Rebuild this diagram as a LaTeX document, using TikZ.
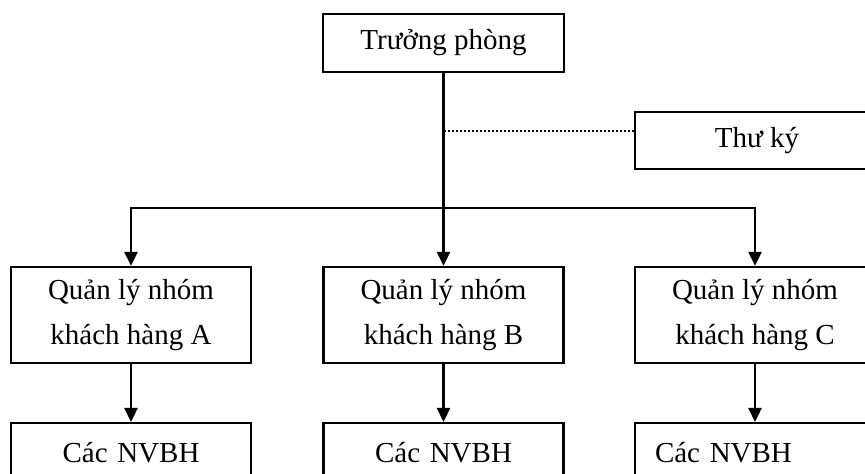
\documentclass[tikz,border=0pt]{standalone}
\usepackage{fontspec}
\setmainfont{Liberation Serif}
\usetikzlibrary{arrows.meta}
\begin{document}
\begin{tikzpicture}[x=0.5pt,y=-0.5pt,
  txt/.style={font=\fontsize{14.5pt}{22.5pt}\selectfont},
  box/.style={txt, draw, line width=1.15pt, inner sep=0pt, align=center},
  mgr/.style={box, minimum width=120pt, minimum height=48pt},
  bot/.style={txt, draw, line width=1.15pt, anchor=north, minimum width=120pt,
              text width=100pt, inner xsep=10pt, inner ysep=10pt,
              text height=9.5pt, text depth=40pt},
  conn/.style={line width=1.15pt, -{Triangle[width=6.5pt,length=7pt]}}
]
\useasboundingbox (0,0) rectangle (865,474);
\clip (0,0) rectangle (865,474);
\fill[white] (0,0) rectangle (865,474);

\node[box, minimum width=120.5pt, minimum height=29pt] (tp) at (443.5,43) {Trưởng phòng};
\node[box, minimum width=122pt, minimum height=28.5pt] (tk) at (757,140.5) {Thư ký};

\node[mgr] (qA) at (131,315) {Quản lý nhóm\\khách hàng A};
\node[mgr] (qB) at (443.5,315) {Quản lý nhóm\\khách hàng B};
\node[mgr] (qC) at (755,315) {Quản lý nhóm\\khách hàng C};

\node[bot, align=center] (nA) at (131,422) {Các NVBH};
\node[bot, align=center] (nB) at (443.5,422) {Các NVBH};
\node[bot, align=left] (nC) at (755,422) {Các NVBH};

\coordinate (bus) at (443.5,208);
\coordinate (dot) at (443.5,131);

\draw[conn] (tp.south) -- (qB.north);
\draw[conn] (bus) -| (qA.north);
\draw[conn] (bus) -| (qC.north);
\draw[line width=0.7pt, dash pattern=on 1pt off 1pt] (dot) -- (dot -| tk.west);

\draw[conn] (qA.south) -- (nA.north);
\draw[conn] (qB.south) -- (nB.north);
\draw[conn] (qC.south) -- (nC.north);
\end{tikzpicture}
\end{document}
